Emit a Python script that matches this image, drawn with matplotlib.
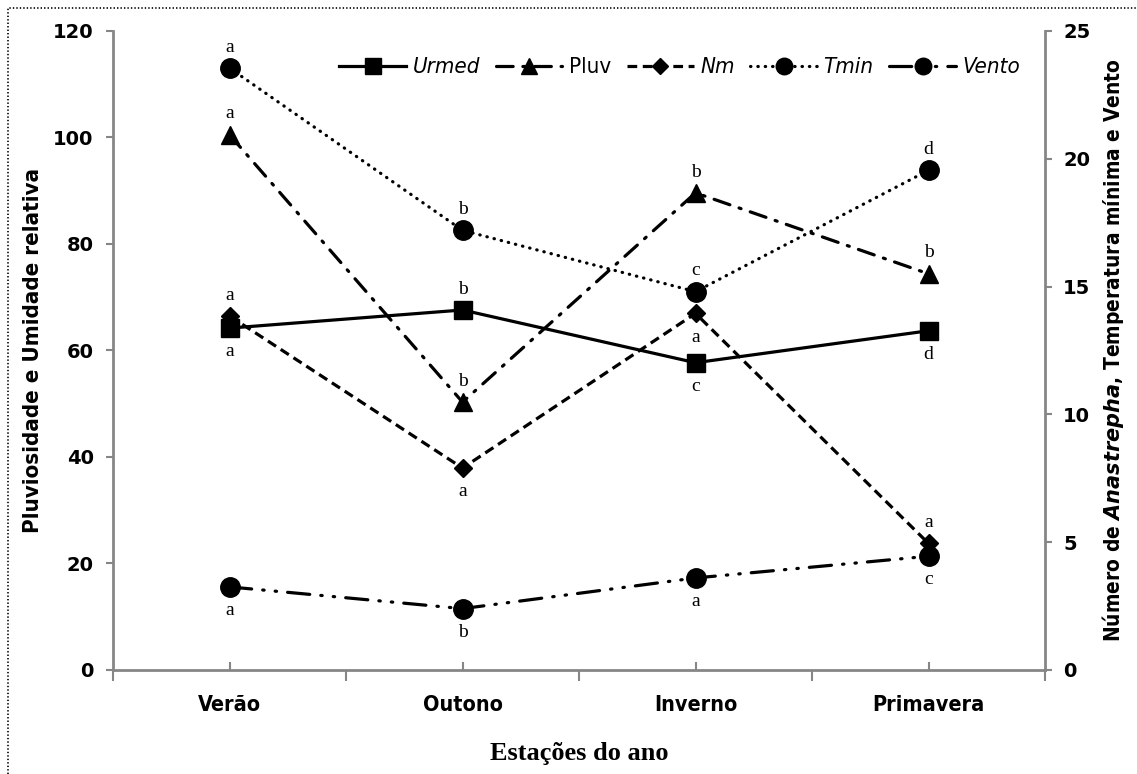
import matplotlib
matplotlib.use('Agg')
import matplotlib.pyplot as plt
from matplotlib.lines import Line2D
from matplotlib.ticker import FixedLocator

# seasons and the mean values for each one
estacoes = ['Verão', 'Outono', 'Inverno', 'Primavera']
urmed = [64.2, 67.6, 57.7, 63.7]      # umidade relativa (eixo esquerdo)
pluv = [100.5, 50.3, 89.6, 74.4]      # pluviosidade (eixo esquerdo)
nm = [13.85, 7.9, 13.95, 4.95]        # numero de Anastrepha (eixo direito)
tmin = [23.55, 17.2, 14.8, 19.55]     # temperatura minima (eixo direito)
vento = [3.25, 2.4, 3.6, 4.45]        # vento (eixo direito)

# letters from the mean comparison test
let_urmed = ['a', 'b', 'c', 'd']
let_pluv = ['a', 'b', 'b', 'b']
let_nm = ['a', 'a', 'a', 'a']
let_tmin = ['a', 'b', 'c', 'd']
let_vento = ['a', 'b', 'a', 'c']

plt.rcParams['lines.scale_dashes'] = False
plt.rcParams['mathtext.fontset'] = 'custom'
plt.rcParams['mathtext.it'] = 'DejaVu Sans:italic:bold'
grey = '#868686'
cond = dict(family='DejaVu Sans', stretch='condensed')

fig = plt.figure(figsize=(11.37, 7.74), dpi=100)
ax = fig.add_axes([0.0994, 0.1344, 0.8197, 0.8256])
ax2 = ax.twinx()

x = list(range(len(estacoes)))
lw = 2.3

h1, = ax.plot(x, urmed, color='black', lw=lw, marker='s', ms=13, label='Urmed')
h2, = ax.plot(x, pluv, color='black', lw=lw, ls=(0, (12, 7, 1.5, 7)),
              dash_capstyle='round', marker='^', ms=13, label='Pluv')
h3, = ax2.plot(x, nm, color='black', lw=lw, ls=(0, (7, 4)),
               marker='D', ms=9, label='Nm')
h4, = ax2.plot(x, tmin, color='black', lw=lw, ls=(0, (0.3, 5)),
               dash_capstyle='round', marker='o', ms=14, label='Tmin')
h5, = ax2.plot(x, vento, color='black', lw=lw, ls=(0, (16, 8, 1, 8, 1, 8)),
               dash_capstyle='round', marker='o', ms=14, label='Vento')


def letras(axis, vals, lets, pos):
    for xi, v, t, p in zip(x, vals, lets, pos):
        dy = 15 if p == 'up' else -17
        axis.annotate(t, (xi, v), xytext=(0, dy), textcoords='offset points',
                      ha='center', va='center', fontsize=14,
                      family='Liberation Serif')


letras(ax2, tmin, let_tmin, ['up', 'up', 'up', 'up'])
letras(ax, pluv, let_pluv, ['up', 'up', 'up', 'up'])
letras(ax, urmed, let_urmed, ['down', 'up', 'down', 'down'])
letras(ax2, nm, let_nm, ['up', 'down', 'down', 'up'])
letras(ax2, vento, let_vento, ['down', 'down', 'down', 'down'])

# axes limits and ticks
ax.set_xlim(-0.5, 3.5)
ax.set_ylim(0, 120)
ax2.set_ylim(0, 25)
ax.set_yticks(range(0, 121, 20))
ax2.set_yticks(range(0, 26, 5))
ax.xaxis.set_major_locator(FixedLocator([-0.5, 0.5, 1.5, 2.5, 3.5]))
ax.xaxis.set_minor_locator(FixedLocator(x))
ax.set_xticklabels([])
ax.tick_params(axis='x', which='major', direction='out', length=8, width=1.5, color=grey)
ax.tick_params(axis='x', which='minor', direction='in', length=6, width=1.5, color=grey)
for xi, nome in zip(x, estacoes):
    ax.text(xi, -0.055, nome, transform=ax.get_xaxis_transform(), ha='center',
            va='center', fontsize=15.5, fontweight='bold', **cond)

for a in (ax, ax2):
    for s in a.spines.values():
        s.set_color(grey)
        s.set_linewidth(2)
    a.spines['top'].set_visible(False)
ax2.spines['left'].set_visible(False)
ax.spines['right'].set_visible(False)
ax2.spines['bottom'].set_visible(False)

ax.tick_params(axis='y', direction='out', length=5, width=1.5, color=grey,
               labelsize=14, pad=9)
ax2.tick_params(axis='y', direction='out', length=5, width=1.5, color=grey,
                labelsize=14, pad=8)
for lab in ax.get_yticklabels() + ax2.get_yticklabels():
    lab.set_fontweight('bold')

ax.set_ylabel('Pluviosidade e Umidade relativa', fontsize=16, fontweight='bold',
              labelpad=7, **cond)
ax2.set_ylabel('Número de $\\mathit{Anastrepha}$, Temperatura mínima e Vento',
               fontsize=15, fontweight='bold', labelpad=7, **cond)
ax.text(0.5, -0.13, 'Estações do ano', transform=ax.transAxes, ha='center',
        va='center', fontsize=19, fontweight='bold', family='Liberation Serif')

leg = ax2.legend(handles=[h1, h2, h3, h4, h5], loc='upper right',
                 bbox_to_anchor=(0.995, 0.99), ncol=5, frameon=False,
                 handlelength=3.0, handletextpad=0.3, columnspacing=0.7,
                 markerscale=0.85, prop=dict(size=16, **cond))
for t in leg.get_texts():
    if t.get_text() != 'Pluv':
        t.set_style('italic')

# dotted frame around the figure
fig.add_artist(Line2D([0.007, 0.007, 1.0], [0.0, 0.99, 0.99], transform=fig.transFigure,
                      color='black', lw=1.2, ls=(0, (1, 1.5))))

fig.savefig('out.png', dpi=100)
